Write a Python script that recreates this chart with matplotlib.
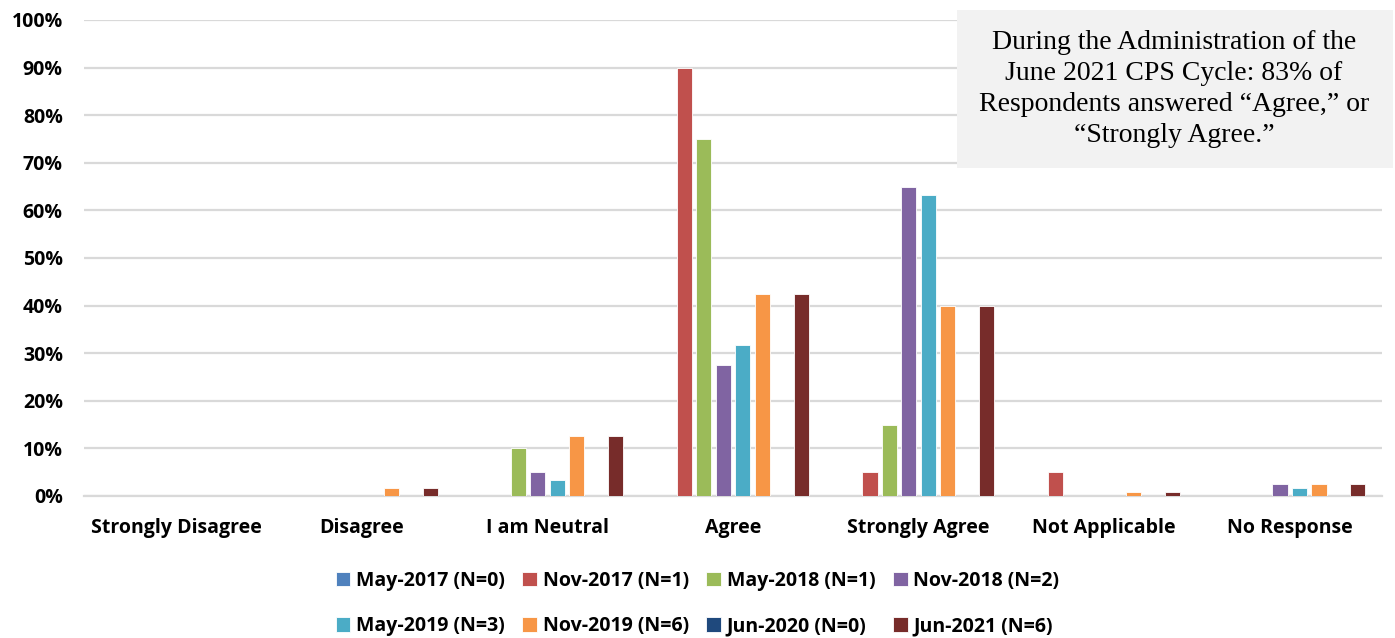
import matplotlib.pyplot as plt
import numpy as np
from matplotlib.patches import Rectangle
from matplotlib.ticker import PercentFormatter

categories = ["Strongly Disagree", "Disagree", "I am Neutral", "Agree",
              "Strongly Agree", "Not Applicable", "No Response"]
series = ["May-2017 (N=0)", "Nov-2017 (N=1)", "May-2018 (N=1)", "Nov-2018 (N=2)",
          "May-2019 (N=3)", "Nov-2019 (N=6)", "Jun-2020 (N=0)", "Jun-2021 (N=6)"]

may17 = [0, 0, 0, 0, 0, 0, 0]
nov17 = [0, 0, 0, 90, 5, 5, 0]
may18 = [0, 0, 10, 75, 15, 0, 0]
nov18 = [0, 0, 5, 27.5, 65, 0, 2.5]
may19 = [0, 0, 3.3, 31.7, 63.3, 0, 1.7]
nov19 = [0, 1.7, 12.5, 42.5, 40, 0.8, 2.5]
jun20 = [0, 0, 0, 0, 0, 0, 0]
jun21 = [0, 1.7, 12.5, 42.5, 40, 0.8, 2.5]

values = [may17, nov17, may18, nov18, may19, nov19, jun20, jun21]
colors = ["#4F81BD", "#C0504D", "#9BBB59", "#8064A2",
          "#4BACC6", "#F79646", "#1F497D", "#772C2A"]

plt.rcParams['font.family'] = ['Open Sans', 'DejaVu Sans']

fig = plt.figure(figsize=(13.95, 6.38), dpi=100)
ax = fig.add_axes([0.060, 0.2226, 0.931, 0.7461])

x = np.arange(len(categories))
slot = 0.105
bars = []
for i, (vals, c) in enumerate(zip(values, colors)):
    b = ax.bar(x + (i - 3.5) * slot, vals, width=0.082, color=c, label=series[i],
               edgecolor='white', linewidth=0.6, zorder=3)
    bars.append(b)

ax.set_xlim(-0.5, len(categories) - 0.5)
ax.set_ylim(0, 100)
ax.set_yticks(np.arange(0, 101, 10))
ax.yaxis.set_major_formatter(PercentFormatter(decimals=0))
ax.grid(axis='y', color='#D9D9D9', linewidth=1.6, zorder=0)
for s in ['top', 'right', 'left']:
    ax.spines[s].set_visible(False)
ax.spines['bottom'].set_color('#D9D9D9')
ax.spines['bottom'].set_linewidth(1.6)
ax.tick_params(axis='both', length=0, labelsize=14)
ax.tick_params(axis='y', pad=15)
ax.tick_params(axis='x', pad=16)
ax.set_xticks(x)
ax.set_xticklabels(categories, fontweight='bold')
for t in ax.get_yticklabels():
    t.set_fontweight('bold')

# legend fills column-wise, so reorder to get row-wise order
order = [0, 4, 1, 5, 2, 6, 3, 7]
leg = fig.legend([bars[k] for k in order], [series[k] for k in order],
                 loc='center', bbox_to_anchor=(0.5, 0.054), ncol=4, frameon=False,
                 prop={'weight': 'bold', 'size': 14}, handlelength=0.75,
                 handleheight=0.75, handletextpad=0.3, columnspacing=0.9,
                 labelspacing=1.3)

fig.patches.append(Rectangle((957 / 1395, 1 - 168 / 638), 436 / 1395, 158 / 638,
                             transform=fig.transFigure, facecolor='#F2F2F2',
                             edgecolor='none', zorder=5))
fig.text(1174 / 1395, 1 - 89 / 638,
         "During the Administration of the\nJune 2021 CPS Cycle: 83% of\n"
         "Respondents answered \u201cAgree,\u201d or\n\u201cStrongly Agree.\u201d",
         ha='center', va='center', family=['Liberation Serif'], fontsize=20,
         linespacing=1.33, zorder=6)

fig.savefig("out.png", dpi=100)
